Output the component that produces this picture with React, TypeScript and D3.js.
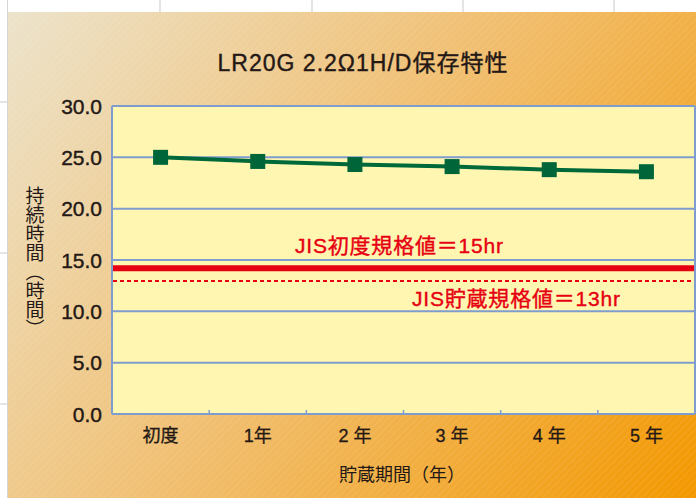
import React, { useEffect, useRef } from "react";
import * as d3 from "d3";

// chart data
const categories = ["初度", "1年", "2 年", "3 年", "4 年", "5 年"];
const durations = [25.0, 24.6, 24.3, 24.1, 23.8, 23.6];
const yTicks = [0, 5, 10, 15, 20, 25, 30];
const specLines = [
  { label: "JIS初度規格値＝15hr", value: 14.2, dashed: false },
  { label: "JIS貯蔵規格値＝13hr", value: 12.95, dashed: true },
];

const title = "LR20G 2.2Ω1H/D保存特性";
const yTitle = "持続時間（時間）";
const xTitle = "貯蔵期間（年）";

const latin = "'Liberation Sans', Arial, 'Noto Sans CJK JP', sans-serif";
const cjk = "'Noto Sans CJK JP', 'Liberation Sans', sans-serif";
const ink = "#231815";

const App = () => {
  const ref = useRef<SVGSVGElement>(null);

  useEffect(() => {
    const width = 696;
    const height = 498;
    const plot = { left: 112, right: 695, top: 106, bottom: 414 };

    const svg = d3.select(ref.current);
    svg.selectAll("*").remove();
    svg.attr("width", width).attr("height", height);

    const defs = svg.append("defs");
    const grad = defs
      .append("linearGradient")
      .attr("id", "bg")
      .attr("gradientUnits", "userSpaceOnUse")
      .attr("x1", 8)
      .attr("y1", 12)
      .attr("x2", width)
      .attr("y2", height);
    grad.append("stop").attr("offset", 0).attr("stop-color", "#ece3cb");
    grad.append("stop").attr("offset", 0.5).attr("stop-color", "#f1bd6c");
    grad.append("stop").attr("offset", 1).attr("stop-color", "#f39800");

    const pat = defs
      .append("pattern")
      .attr("id", "hatch")
      .attr("patternUnits", "userSpaceOnUse")
      .attr("width", 5)
      .attr("height", 5)
      .attr("patternTransform", "rotate(45)");
    pat
      .append("line")
      .attr("x1", 0)
      .attr("y1", 0)
      .attr("x2", 0)
      .attr("y2", 5)
      .attr("stroke", "#ffffff")
      .attr("stroke-opacity", 0.18)
      .attr("stroke-width", 1);

    // page strips
    svg.append("rect").attr("width", width).attr("height", height).attr("fill", "#ffffff");
    [160, 312, 463, 614].forEach((x) =>
      svg.append("line").attr("x1", x).attr("x2", x).attr("y1", 0).attr("y2", 12)
        .attr("stroke", "#c9c9c9").attr("stroke-width", 1)
    );
    [102, 253, 404].forEach((y) =>
      svg.append("line").attr("x1", 0).attr("x2", 8).attr("y1", y).attr("y2", y)
        .attr("stroke", "#c9c9c9").attr("stroke-width", 1)
    );
    svg.append("line").attr("x1", 7.5).attr("x2", 7.5).attr("y1", 0).attr("y2", height)
      .attr("stroke", "#d6d6d6").attr("stroke-width", 1);

    svg.append("rect").attr("x", 8).attr("y", 12).attr("width", width - 8).attr("height", height - 12)
      .attr("fill", "url(#bg)");
    svg.append("rect").attr("x", 8).attr("y", 12).attr("width", width - 8).attr("height", height - 12)
      .attr("fill", "url(#hatch)");

    const x = d3.scaleBand().domain(categories).range([plot.left, plot.right]).padding(0);
    const y = d3.scaleLinear().domain([0, 30]).range([plot.bottom, plot.top]);

    // plot area
    svg.append("rect")
      .attr("x", plot.left).attr("y", plot.top)
      .attr("width", plot.right - plot.left).attr("height", plot.bottom - plot.top)
      .attr("fill", "#fff7b1");

    const gridColor = "#7f9ccf";
    svg.append("g")
      .selectAll("line")
      .data(yTicks)
      .join("line")
      .attr("x1", plot.left)
      .attr("x2", plot.right)
      .attr("y1", (d) => y(d))
      .attr("y2", (d) => y(d))
      .attr("stroke", gridColor)
      .attr("stroke-width", 2);

    svg.append("line").attr("x1", plot.left).attr("x2", plot.left)
      .attr("y1", plot.top).attr("y2", plot.bottom).attr("stroke", gridColor).attr("stroke-width", 2);
    svg.append("line").attr("x1", plot.right).attr("x2", plot.right)
      .attr("y1", plot.top).attr("y2", plot.bottom).attr("stroke", gridColor).attr("stroke-width", 2);

    // ticks between categories
    svg.append("g")
      .selectAll("line")
      .data(categories.slice(1))
      .join("line")
      .attr("x1", (d) => x(d)!)
      .attr("x2", (d) => x(d)!)
      .attr("y1", plot.bottom)
      .attr("y2", plot.bottom - 4)
      .attr("stroke", gridColor)
      .attr("stroke-width", 1.5);

    // y tick labels
    svg.append("g")
      .selectAll("text")
      .data(yTicks)
      .join("text")
      .attr("x", 102)
      .attr("y", (d) => y(d) + 7.5)
      .attr("text-anchor", "end")
      .style("font-family", latin)
      .style("font-size", "21px")
      .attr("fill", ink)
      .attr("stroke", ink)
      .attr("stroke-width", 0.4)
      .text((d) => d.toFixed(1));

    // x tick labels
    svg.append("g")
      .selectAll("text")
      .data(categories)
      .join("text")
      .attr("x", (d) => x(d)! + x.bandwidth() / 2)
      .attr("y", 442)
      .attr("text-anchor", "middle")
      .style("font-family", latin)
      .style("font-size", "18px")
      .attr("fill", ink)
      .attr("stroke", ink)
      .attr("stroke-width", 0.3)
      .text((d) => d);

    // spec lines
    specLines.forEach((s, i) => {
      svg.append("line")
        .attr("x1", plot.left + 1)
        .attr("x2", plot.right - 1)
        .attr("y1", y(s.value))
        .attr("y2", y(s.value))
        .attr("stroke", "#e60012")
        .attr("stroke-width", s.dashed ? 2 : 6)
        .attr("stroke-dasharray", s.dashed ? "4 3" : null);
      svg.append("text")
        .attr("x", i === 0 ? 295 : 412)
        .attr("y", i === 0 ? y(s.value) - 15 : y(s.value) + 25)
        .style("font-family", latin)
        .style("font-size", "21px")
        .style("letter-spacing", "0.8px")
        .attr("fill", "#e60012")
        .attr("stroke", "#e60012")
        .attr("stroke-width", 0.4)
        .text(s.label);
    });

    // series
    const pts = categories.map((c, i) => ({ c, v: durations[i] }));
    const line = d3
      .line<{ c: string; v: number }>()
      .x((d) => x(d.c)! + x.bandwidth() / 2)
      .y((d) => y(d.v));
    svg.append("path")
      .datum(pts)
      .attr("d", line)
      .attr("fill", "none")
      .attr("stroke", "#00693a")
      .attr("stroke-width", 4);
    const m = 15;
    svg.append("g")
      .selectAll("rect")
      .data(pts)
      .join("rect")
      .attr("x", (d) => x(d.c)! + x.bandwidth() / 2 - m / 2)
      .attr("y", (d) => y(d.v) - m / 2)
      .attr("width", m)
      .attr("height", m)
      .attr("fill", "#00663a");

    // titles
    svg.append("text")
      .attr("x", 363)
      .attr("y", 71)
      .attr("text-anchor", "middle")
      .style("font-family", latin)
      .style("font-size", "23px")
      .style("letter-spacing", "1px")
      .attr("fill", ink)
      .attr("stroke", ink)
      .attr("stroke-width", 0.4)
      .text(title);

    svg.append("text")
      .attr("x", 402)
      .attr("y", 481)
      .attr("text-anchor", "middle")
      .style("font-family", cjk)
      .style("font-size", "18px")
      .attr("fill", ink)
      .text(xTitle);

    svg.append("text")
      .attr("x", 35)
      .attr("y", 262)
      .attr("text-anchor", "middle")
      .style("writing-mode", "vertical-rl")
      .style("font-family", cjk)
      .style("font-size", "19px")
      .attr("fill", ink)
      .text(yTitle);
  }, []);

  return (
    <div style={{ position: "absolute", left: 0, top: 0 }}>
      <svg ref={ref}></svg>
    </div>
  );
};

export default App;
